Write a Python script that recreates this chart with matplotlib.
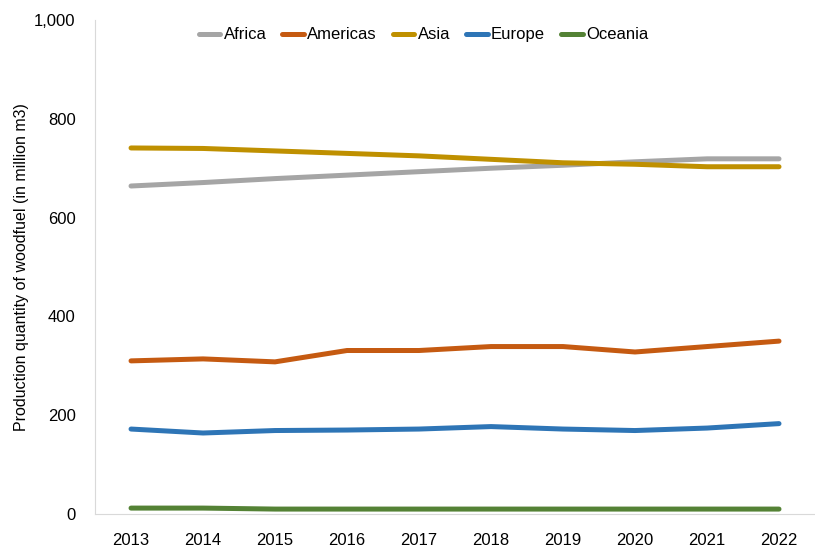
import numpy as np
import matplotlib
matplotlib.use("Agg")
import matplotlib.pyplot as plt
from matplotlib.ticker import FuncFormatter

years = ["2013", "2014", "2015", "2016", "2017", "2018", "2019", "2020", "2021", "2022"]
africa = [664, 671, 679, 686, 693, 700, 706, 713, 719, 719]
americas = [310, 314, 308, 331, 331, 339, 339, 328, 339, 350]
asia = [741, 740, 735, 730, 725, 718, 711, 708, 703, 703]
europe = [172, 164, 169, 170, 172, 177, 172, 169, 174, 183]
oceania = [12, 12, 10, 10, 10, 10, 10, 10, 10, 10]

names = ["Africa", "Americas", "Asia", "Europe", "Oceania"]
series = [africa, americas, asia, europe, oceania]
colors = ["#A5A5A5", "#C55A11", "#BF9000", "#2E75B6", "#548235"]

plt.rcParams["font.family"] = ["Liberation Sans", "DejaVu Sans"]

fig = plt.figure(figsize=(8.15, 5.47), dpi=100)
ax = fig.add_axes([0.1166, 0.0603, 0.8834, 0.9031])

x = np.arange(len(years))
for name, vals, c in zip(names, series, colors):
    ax.plot(x, vals, color=c, lw=3.6, solid_capstyle="round", label=name)

ax.set_xlim(-0.5, len(years) - 0.5)
ax.set_ylim(0, 1000)
ax.set_xticks(x)
ax.set_xticklabels(years)
ax.set_yticks(np.arange(0, 1001, 200))
ax.yaxis.set_major_formatter(FuncFormatter(lambda v, p: f"{int(v):,}"))
ax.tick_params(length=0, labelsize=12, colors="black")
ax.tick_params(axis="x", pad=14)
ax.tick_params(axis="y", pad=14)
for s in ["top", "right"]:
    ax.spines[s].set_visible(False)
ax.spines["left"].set_color("#D9D9D9")
ax.spines["bottom"].set_color("#D9D9D9")
ax.set_ylabel("Production quantity of woodfuel (in million m3)", fontsize=11.5, labelpad=4)

leg = ax.legend(loc="center", bbox_to_anchor=(0.456, 0.97), ncol=5, frameon=False,
                fontsize=12, handlelength=1.3, handletextpad=0.2, columnspacing=0.95)
for h in leg.get_lines():
    h.set_solid_capstyle("round")

fig.savefig("out.png", dpi=100)
